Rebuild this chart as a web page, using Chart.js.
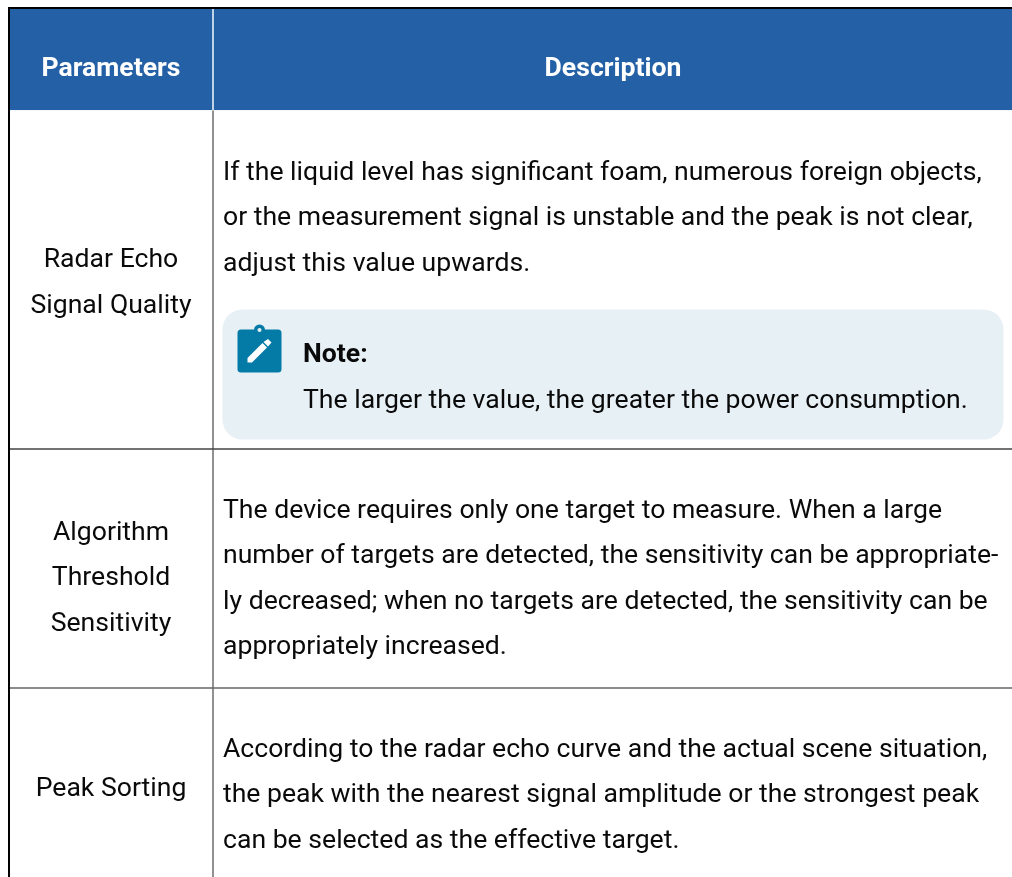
<!DOCTYPE html>
<html>
<head>
<meta charset="utf-8">
<title>Parameters</title>
<script src="https://cdn.jsdelivr.net/npm/chart.js@4"></script>
<style>
html, body { margin: 0; padding: 0; background: #fff; }
canvas { display: block; }
</style>
</head>
<body>
<canvas id="myChart" width="1012" height="877"></canvas>
<script>
// texto de la tabla
const headers = ['Parameters', 'Description'];
const parameters = [
    ['Radar Echo', 'Signal Quality'],
    ['Algorithm', 'Threshold', 'Sensitivity'],
    ['Peak Sorting']
];
const descriptions = [
    ['If the liquid level has significant foam, numerous foreign objects,',
     'or the measurement signal is unstable and the peak is not clear,',
     'adjust this value upwards.'],
    ['The device requires only one target to measure. When a large',
     'number of targets are detected, the sensitivity can be appropriate-',
     'ly decreased; when no targets are detected, the sensitivity can be',
     'appropriately increased.'],
    ['According to the radar echo curve and the actual scene situation,',
     'the peak with the nearest signal amplitude or the strongest peak',
     'can be selected as the effective target.']
];
const noteTitle = 'Note:';
const noteText = 'The larger the value, the greater the power consumption.';

// medidas, en las unidades de las escalas (0-1012, 0-877)
const columnEdges = [9, 213, 1012];
const rowEdges = [8, 110.5, 449, 688, 877];
const paramCenters = [283.5, 578.5, 789];
const descFirstLine = [173, 511, 750];
const lineGap = 45.6;
const descX = 223;

const FONT = 'Roboto, sans-serif';
const BODY_SIZE = 26.6;
const HEADER_SIZE = 26.6;

const tablaPlugin = {
    id: 'tabla',
    beforeDraw(chart) {
        const ctx = chart.ctx;
        const sx = chart.scales.x;
        const sy = chart.scales.y;
        const X = v => sx.getPixelForValue(v);
        const Y = v => sy.getPixelForValue(v);

        ctx.save();
        ctx.fillStyle = '#fff';
        ctx.fillRect(0, 0, chart.width, chart.height);

        // cabecera
        ctx.fillStyle = '#2360a5';
        ctx.fillRect(X(columnEdges[0]), Y(rowEdges[0]), X(columnEdges[2]) - X(columnEdges[0]), Y(rowEdges[1]) - Y(rowEdges[0]));
        ctx.fillStyle = '#f4f7fb';
        ctx.fillRect(X(columnEdges[0]), Y(rowEdges[1]) - 0.5, X(columnEdges[2]), 1);
        ctx.fillRect(X(columnEdges[1]) - 0.75, Y(rowEdges[0]), 1.5, Y(rowEdges[1]) - Y(rowEdges[0]));

        // lineas de la tabla
        ctx.fillStyle = '#6e6e6e';
        ctx.fillRect(X(columnEdges[1]) - 0.75, Y(rowEdges[1]), 1.5, Y(rowEdges[4]) - Y(rowEdges[1]));
        ctx.fillStyle = '#444';
        ctx.fillRect(X(columnEdges[0]), Y(rowEdges[2]) - 0.75, X(columnEdges[2]), 1.5);
        ctx.fillStyle = '#666';
        ctx.fillRect(X(columnEdges[0]), Y(rowEdges[3]) - 0.75, X(columnEdges[2]), 1.5);
        ctx.fillStyle = '#000';
        ctx.fillRect(X(columnEdges[0]) - 1, Y(rowEdges[0]) - 1, 2, Y(rowEdges[4]));
        ctx.fillRect(X(columnEdges[0]) - 1, Y(rowEdges[0]) - 1, X(columnEdges[2]), 2);

        // caja de la nota
        ctx.fillStyle = '#e7f0f5';
        ctx.beginPath();
        ctx.roundRect(X(222.5), Y(309.5), X(781), Y(130), 20);
        ctx.fill();

        // icono
        ctx.fillStyle = '#047aa6';
        ctx.beginPath();
        ctx.roundRect(X(237.5), Y(329.5), X(44), Y(43), 3.5);
        ctx.fill();
        ctx.beginPath();
        ctx.arc(X(259.5), Y(330), 5.5, 0, Math.PI * 2);
        ctx.fill();
        ctx.fillStyle = '#e7f0f5';
        ctx.beginPath();
        ctx.arc(X(259.5), Y(330), 2, 0, Math.PI * 2);
        ctx.fill();
        ctx.fillStyle = '#fff';
        ctx.beginPath();
        ctx.moveTo(X(247.5), Y(358));
        ctx.lineTo(X(262.5), Y(343));
        ctx.lineTo(X(267), Y(347.5));
        ctx.lineTo(X(252), Y(362.5));
        ctx.lineTo(X(247.5), Y(362.5));
        ctx.closePath();
        ctx.fill();
        ctx.beginPath();
        ctx.moveTo(X(263.5), Y(342));
        ctx.lineTo(X(268), Y(339));
        ctx.lineTo(X(271.5), Y(342.5));
        ctx.lineTo(X(268), Y(346.5));
        ctx.closePath();
        ctx.fill();

        // textos
        ctx.textBaseline = 'middle';
        ctx.textAlign = 'center';
        ctx.fillStyle = '#fff';
        ctx.font = 'bold ' + HEADER_SIZE + 'px ' + FONT;
        ctx.fillText(headers[0], X(111), Y(69));
        ctx.fillText(headers[1], X(613), Y(69));

        ctx.fillStyle = '#0a0a0a';
        ctx.font = BODY_SIZE + 'px ' + FONT;
        parameters.forEach((lineas, i) => {
            const inicio = paramCenters[i] - (lineas.length - 1) * lineGap / 2;
            lineas.forEach((linea, j) => {
                ctx.fillText(linea, X(111), Y(inicio + j * lineGap));
            });
        });

        ctx.textAlign = 'left';
        descriptions.forEach((lineas, i) => {
            lineas.forEach((linea, j) => {
                ctx.fillText(linea, X(descX), Y(descFirstLine[i] + j * lineGap));
            });
        });

        ctx.font = 'bold ' + BODY_SIZE + 'px ' + FONT;
        ctx.fillText(noteTitle, X(303), Y(355));
        ctx.font = BODY_SIZE + 'px ' + FONT;
        ctx.fillText(noteText, X(303), Y(401));
        ctx.restore();
    }
};

new Chart(document.getElementById('myChart').getContext('2d'), {
    type: 'scatter',
    data: { datasets: [{ data: [] }] },
    options: {
        responsive: false,
        animation: false,
        layout: { padding: 0 },
        plugins: { legend: { display: false }, tooltip: { enabled: false } },
        scales: {
            x: { type: 'linear', min: 0, max: 1012, display: false },
            y: { type: 'linear', min: 0, max: 877, reverse: true, display: false }
        }
    },
    plugins: [tablaPlugin]
});
</script>
</body>
</html>
